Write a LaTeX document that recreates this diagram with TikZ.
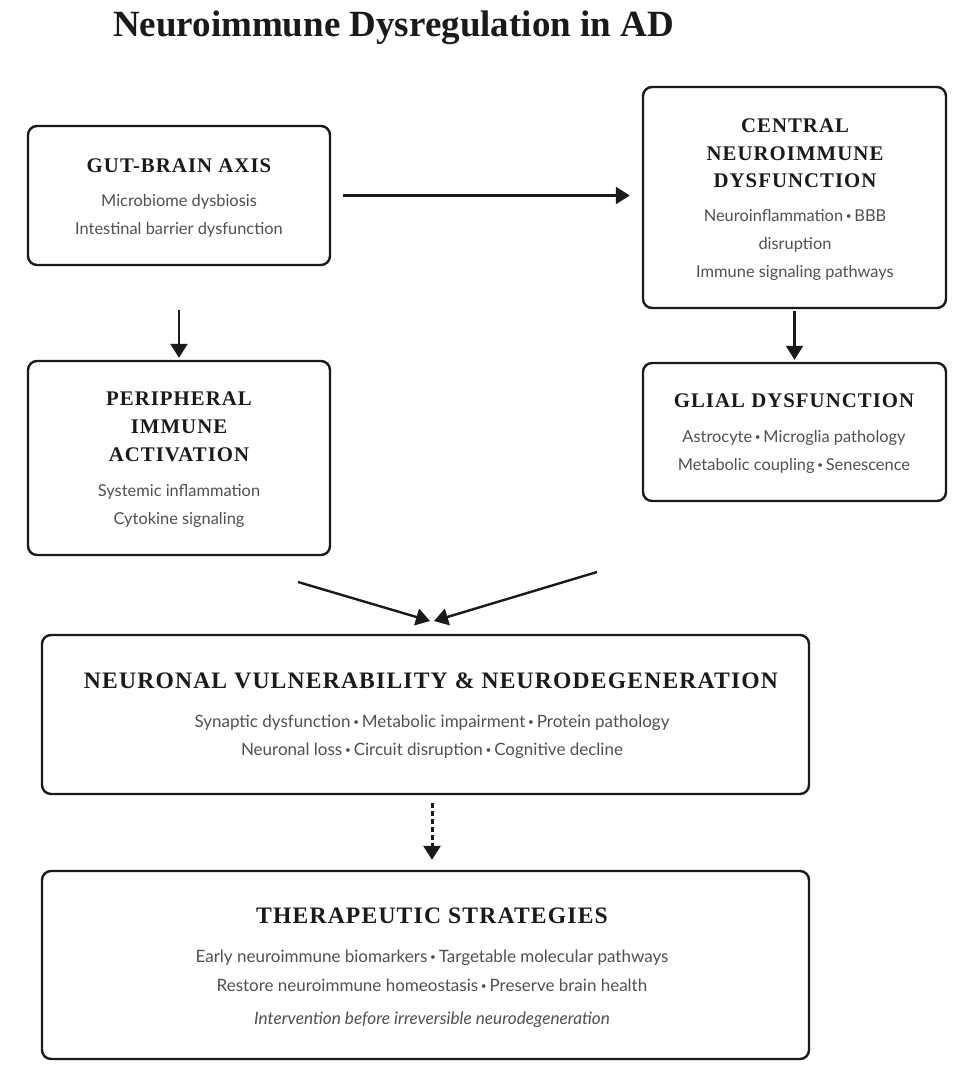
\documentclass[tikz,border=0pt]{standalone}
\usepackage{fontspec}
\setmainfont{Liberation Serif}
\newfontfamily\headfont[LetterSpace=5]{Liberation Serif}
\newfontfamily\titlefont{Liberation Serif}
\newfontfamily\bodyfont{Lato}
\usetikzlibrary{arrows.meta}
\definecolor{ink}{HTML}{1A1A1A}
\definecolor{bodygray}{HTML}{505050}
\newcommand{\sep}{\,{\fontsize{10}{10}\selectfont\raisebox{0.25ex}{•}}\,}
\begin{document}
\begin{tikzpicture}[x=1pt,y=-1pt,
  box/.style={draw=ink, line width=2.4pt, rounded corners=9pt, inner sep=0pt},
  hd/.style={anchor=base, text=ink, inner sep=0pt, font=\headfont\bfseries\fontsize{20.8}{24}\selectfont},
  bighd/.style={anchor=base, text=ink, inner sep=0pt, font=\headfont\bfseries\fontsize{23.6}{28}\selectfont},
  bd/.style={anchor=base, text=bodygray, inner sep=0pt, font=\bodyfont\fontsize{16.4}{20}\selectfont},
  bigbd/.style={anchor=base, text=bodygray, inner sep=0pt, font=\bodyfont\fontsize{17}{20}\selectfont},
  bdit/.style={bigbd, font=\bodyfont\itshape\fontsize{17.2}{20}\selectfont},
  arr/.style={draw=ink, line width=2.4pt, -{Triangle[length=14pt,width=17pt]}},
  darr/.style={arr, line width=3pt, dash pattern=on 5pt off 3pt},
]
\useasboundingbox (0,0) rectangle (963,1079);
\fill[white] (0,0) rectangle (963,1079);

% title
\node[anchor=base, text=ink, inner sep=0pt, font=\titlefont\bfseries\fontsize{37}{40}\selectfont] (title) at (393.5,36) {Neuroimmune Dysregulation in AD};

% boxes
\node[box, minimum width=302pt, minimum height=139pt] (gut) at (179,195.5) {};
\node[box, minimum width=303pt, minimum height=221pt] (central) at (794.5,197.5) {};
\node[box, minimum width=302pt, minimum height=194pt] (peri) at (179,458) {};
\node[box, minimum width=303pt, minimum height=138pt] (glial) at (794.5,432) {};
\node[box, minimum width=767pt, minimum height=159pt] (neuro) at (425.5,714.5) {};
\node[box, minimum width=767pt, minimum height=188pt] (thera) at (425.5,965) {};

% gut-brain axis texts
\node[hd] (gutH) at (179,172) {GUT-BRAIN AXIS};
\node[bd] (gutB1) at (179,206) {Microbiome dysbiosis};
\node[bd] (gutB2) at (179,234) {Intestinal barrier dysfunction};

% central texts
\node[hd] (cenH1) at (795,132) {CENTRAL};
\node[hd] (cenH2) at (795,160) {NEUROIMMUNE};
\node[hd] (cenH3) at (795,187) {DYSFUNCTION};
\node[bd] (cenB1) at (795,221) {Neuroinflammation\sep BBB};
\node[bd] (cenB2) at (795,249) {disruption};
\node[bd] (cenB3) at (795,277) {Immune signaling pathways};

% peripheral texts
\node[hd] (perH1) at (179,405) {PERIPHERAL};
\node[hd] (perH2) at (179,433) {IMMUNE};
\node[hd] (perH3) at (179,461) {ACTIVATION};
\node[bd] (perB1) at (179,496) {Systemic inflammation};
\node[bd] (perB2) at (179,524) {Cytokine signaling};

% glial texts
\node[hd] (glH) at (794,407) {GLIAL DYSFUNCTION};
\node[bd] (glB1) at (794,442) {Astrocyte\sep Microglia pathology};
\node[bd] (glB2) at (794,470) {Metabolic coupling\sep Senescence};

% neuronal texts
\node[bighd] (neH) at (431,688) {NEURONAL VULNERABILITY \& NEURODEGENERATION};
\node[bigbd] (neB1) at (432,727) {Synaptic dysfunction\sep Metabolic impairment\sep Protein pathology};
\node[bigbd] (neB2) at (432,755) {Neuronal loss\sep Circuit disruption\sep Cognitive decline};

% therapeutic texts
\node[bighd] (thH) at (432,923) {THERAPEUTIC STRATEGIES};
\node[bigbd] (thB1) at (432,962) {Early neuroimmune biomarkers\sep Targetable molecular pathways};
\node[bigbd] (thB2) at (432,991) {Restore neuroimmune homeostasis\sep Preserve brain health};
\node[bdit] (thB3) at (432,1024) {Intervention before irreversible neurodegeneration};

% connectors
\draw[arr, shorten <=12pt, shorten >=12pt] (gut.east) -- (gut.east -| central.west);
\draw[arr, shorten <=44pt, shorten >=2pt] (gut.south) -- (peri.north);
\draw[arr, shorten <=2pt, shorten >=2pt] (central.south) -- (glial.north);

\coordinate (pS) at (298,582);
\coordinate (gS) at (597,572);
\coordinate (nL) at (430,621);
\coordinate (nR) at (434,621);
\draw[arr] (pS) -- (nL);
\draw[arr] (gS) -- (nR);

\draw[darr] ([xshift=6.5pt,yshift=-8pt]neuro.south) -- ([xshift=6.5pt,yshift=10pt]thera.north);
\end{tikzpicture}
\end{document}
